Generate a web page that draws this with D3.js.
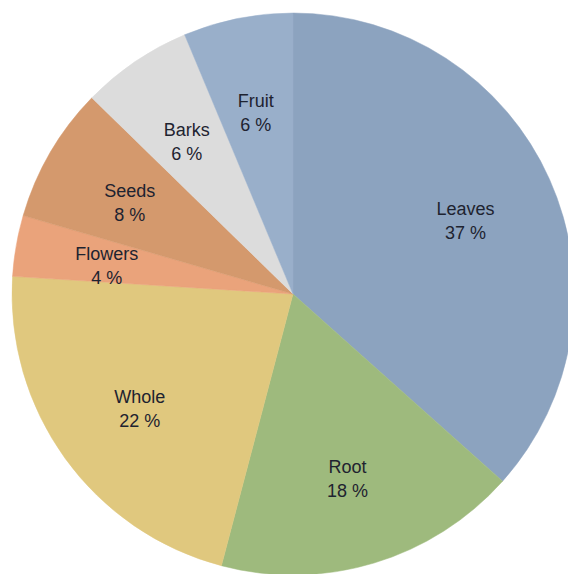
<!DOCTYPE html>
<html>
<head>
<meta charset="utf-8">
<script src="https://cdn.jsdelivr.net/npm/d3@7"></script>
<style>
  html, body { margin: 0; padding: 0; background: #ffffff; }
  svg { display: block; }
</style>
</head>
<body>
<svg id="chart" width="568" height="574"></svg>
<script>
// Data (shares; label text as printed)
const categories = ["Leaves", "Root", "Whole", "Flowers", "Seeds", "Barks", "Fruit"];
const values = [36.6, 17.5, 21.9, 3.5, 7.8, 6.4, 6.3];
const labels = ["37 %", "18 %", "22 %", "4 %", "8 %", "6 %", "6 %"];
const colors = ["#8ca3bf", "#9eba7d", "#e0c87e", "#eaa37b", "#d4996d", "#dcdcdc", "#99afca"];

const W = 568, H = 574;
const cx = 293, cy = 294, R = 281, labelR = 189;

const svg = d3.select("#chart");
const g = svg.append("g").attr("transform", `translate(${cx},${cy})`);

const pie = d3.pie().sort(null).value(d => d.value);
const data = categories.map((c, i) => ({ name: c, value: values[i], label: labels[i], color: colors[i] }));
const arcs = pie(data);

const arc = d3.arc().innerRadius(0).outerRadius(R);
const labelArc = d3.arc().innerRadius(labelR).outerRadius(labelR);

g.selectAll("path.slice")
  .data(arcs)
  .join("path")
  .attr("class", "slice")
  .attr("d", arc)
  .attr("fill", d => d.data.color)
  .attr("stroke", d => d.data.color)
  .attr("stroke-width", 0.5);

const lbl = g.selectAll("text.lbl")
  .data(arcs)
  .join("text")
  .attr("class", "lbl")
  .attr("transform", d => { const [x, y] = labelArc.centroid(d); return `translate(${x},${y})`; })
  .attr("text-anchor", "middle")
  .attr("font-family", "Liberation Sans, Arial, Helvetica, sans-serif")
  .attr("font-size", 18)
  .attr("fill", "#1e2330");

lbl.append("tspan").attr("x", 0).attr("y", -2).text(d => d.data.name);
lbl.append("tspan").attr("x", 0).attr("y", 22).text(d => d.data.label);
</script>
</body>
</html>
